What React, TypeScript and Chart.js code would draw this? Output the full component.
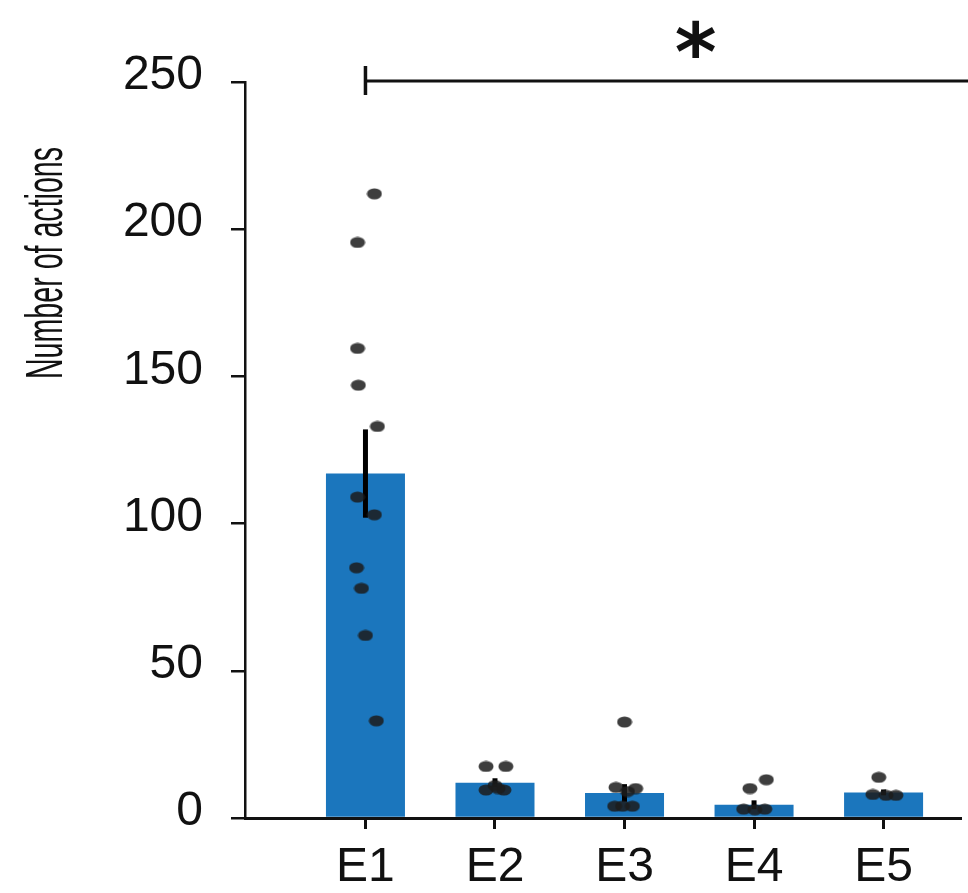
import React, { useEffect, useRef } from 'react';
import { Chart, registerables } from 'chart.js';

Chart.register(...registerables);

// ---- data ----
const categories = ['E1', 'E2', 'E3', 'E4', 'E5'];
const barMeans = [117, 12, 8.5, 4.5, 8.7];
const barSem = [15, 1.5, 3, 1.5, 1];
const yTicks = [0, 50, 100, 150, 200, 250];
const yTitle = 'Number of actions';
const sigLabel = '*';
const sigStart = 1; // E1
const sigMid = 3.55;
const sigLevel = 250;

const e1Values = [212, 195.5, 159.5, 147, 133, 109, 103, 85, 78, 62, 33];
const e1Jitter = [0.069, -0.061, -0.061, -0.055, 0.092, -0.061, 0.069, -0.069, -0.031, 0, 0.084];
const e2Values = [17.5, 17.5, 11, 9.5, 9.5, 10];
const e2Jitter = [-0.069, 0.084, 0, -0.069, 0.069, 0.023];
const e3Values = [32.6, 10.4, 10, 9, 4, 4, 4];
const e3Jitter = [0, -0.066, 0.086, 0.023, -0.076, -0.015, 0.061];
const e4Values = [13, 10, 3, 2.8, 3];
const e4Jitter = [0.095, -0.032, -0.08, 0.006, 0.083];
const e5Values = [13.8, 8, 7.7, 7.7];
const e5Jitter = [-0.037, -0.083, 0.019, 0.095];

const pointValues = [e1Values, e2Values, e3Values, e4Values, e5Values];
const pointJitter = [e1Jitter, e2Jitter, e3Jitter, e4Jitter, e5Jitter];

const BAR_COLOR = '#1b76bd';
const FONT = "'Liberation Sans', Arial, sans-serif";

function makeDot(): HTMLCanvasElement {
  const c = document.createElement('canvas');
  c.width = 16;
  c.height = 12;
  const g = c.getContext('2d')!;
  g.fillStyle = 'rgba(28,28,28,0.85)';
  g.beginPath();
  g.ellipse(8, 6, 7.5, 5.6, 0, 0, Math.PI * 2);
  g.fill();
  return c;
}

export default function App() {
  const ref = useRef<HTMLCanvasElement | null>(null);

  useEffect(() => {
    if (!ref.current) return;
    const dot = makeDot();

    const points: { x: number; y: number }[] = [];
    pointValues.forEach((vals, i) => {
      vals.forEach((v, j) => points.push({ x: i + 1 + pointJitter[i][j], y: v }));
    });

    const overlay = {
      id: 'overlay',
      afterDatasetDraw(chart: any, args: any) {
        if (args.index !== 0) return;
        const { ctx } = chart;
        const x = chart.scales.x;
        const y = chart.scales.y;
        ctx.save();
        ctx.strokeStyle = '#000';
        ctx.lineWidth = 5;
        barMeans.forEach((m, i) => {
          const px = x.getPixelForValue(i + 1);
          ctx.beginPath();
          ctx.moveTo(px, y.getPixelForValue(m - barSem[i]));
          ctx.lineTo(px, y.getPixelForValue(m + barSem[i]));
          ctx.stroke();
        });
        ctx.restore();
      },
      afterDraw(chart: any) {
        const { ctx } = chart;
        const x = chart.scales.x;
        const y = chart.scales.y;
        ctx.save();
        // significance bracket
        const ly = y.getPixelForValue(sigLevel) - 1;
        const lx = x.getPixelForValue(sigStart);
        ctx.strokeStyle = '#111';
        ctx.lineWidth = 3;
        ctx.beginPath();
        ctx.moveTo(lx, ly);
        ctx.lineTo(chart.width, ly);
        ctx.stroke();
        ctx.lineWidth = 3.5;
        ctx.beginPath();
        ctx.moveTo(lx, ly - 15);
        ctx.lineTo(lx, ly + 14);
        ctx.stroke();
        // asterisk
        ctx.fillStyle = '#111';
        ctx.font = "bold 80px 'DejaVu Sans'";
        ctx.textAlign = 'center';
        ctx.textBaseline = 'alphabetic';
        const m = ctx.measureText(sigLabel);
        const asc = m.actualBoundingBoxAscent;
        const desc = m.actualBoundingBoxDescent;
        const base = 39 - (desc - asc) / 2;
        ctx.fillText(sigLabel, x.getPixelForValue(sigMid), base);
        // y title (condensed)
        ctx.translate(62, 263);
        ctx.rotate(-Math.PI / 2);
        ctx.scale(0.55, 1);
        ctx.font = `52px ${FONT}`;
        ctx.textAlign = 'center';
        ctx.textBaseline = 'alphabetic';
        ctx.fillText(yTitle, 0, 0);
        ctx.restore();
      },
    };

    const chart = new Chart(ref.current, {
      type: 'bar',
      data: {
        datasets: [
          {
            type: 'bar',
            data: categories.map((_, i) => ({ x: i + 1, y: barMeans[i] })),
            backgroundColor: BAR_COLOR,
            borderWidth: 0,
            barPercentage: 0.61,
            categoryPercentage: 1,
            order: 2,
          } as any,
          {
            type: 'scatter',
            data: points,
            pointStyle: dot,
            pointRadius: 7,
            order: 1,
          } as any,
        ],
      },
      options: {
        responsive: false,
        animation: false,
        layout: { padding: { top: 82, left: 0, right: 0, bottom: 0 } },
        plugins: { legend: { display: false }, tooltip: { enabled: false } },
        scales: {
          x: {
            type: 'linear',
            min: 0.07,
            max: 5.59,
            offset: false,
            afterBuildTicks: (scale: any) => {
              scale.ticks = categories.map((_, i) => ({ value: i + 1 }));
            },
            afterFit: (scale: any) => {
              scale.height = 75;
            },
            ticks: {
              callback: (v: any) => categories[Math.round(Number(v)) - 1] ?? '',
              color: '#111',
              font: { family: FONT, size: 48 },
              padding: 10,
              maxRotation: 0,
              autoSkip: false,
            },
            grid: {
              offset: false,
              drawOnChartArea: false,
              drawTicks: true,
              tickLength: 11,
              tickColor: '#111',
              tickWidth: 3,
              lineWidth: 3,
            },
            border: { display: true, color: '#111', width: 3 },
          },
          y: {
            type: 'linear',
            min: 0,
            max: 250,
            afterBuildTicks: (scale: any) => {
              scale.ticks = yTicks.map((v) => ({ value: v }));
            },
            afterFit: (scale: any) => {
              scale.width = 245;
            },
            ticks: {
              color: '#111',
              font: { family: FONT, size: 48 },
              padding: 28,
              labelOffset: -6,
            },
            grid: {
              drawOnChartArea: false,
              drawTicks: true,
              tickLength: 14,
              tickColor: '#111',
              tickWidth: 2.5,
              lineWidth: 2.5,
            },
            border: { display: true, color: '#111', width: 2.5 },
          },
        },
      } as any,
      plugins: [overlay],
    });

    return () => chart.destroy();
  }, []);

  return (
    <canvas
      ref={ref}
      width={968}
      height={893}
      style={{ position: 'absolute', left: 0, top: 0, display: 'block' }}
    />
  );
}
